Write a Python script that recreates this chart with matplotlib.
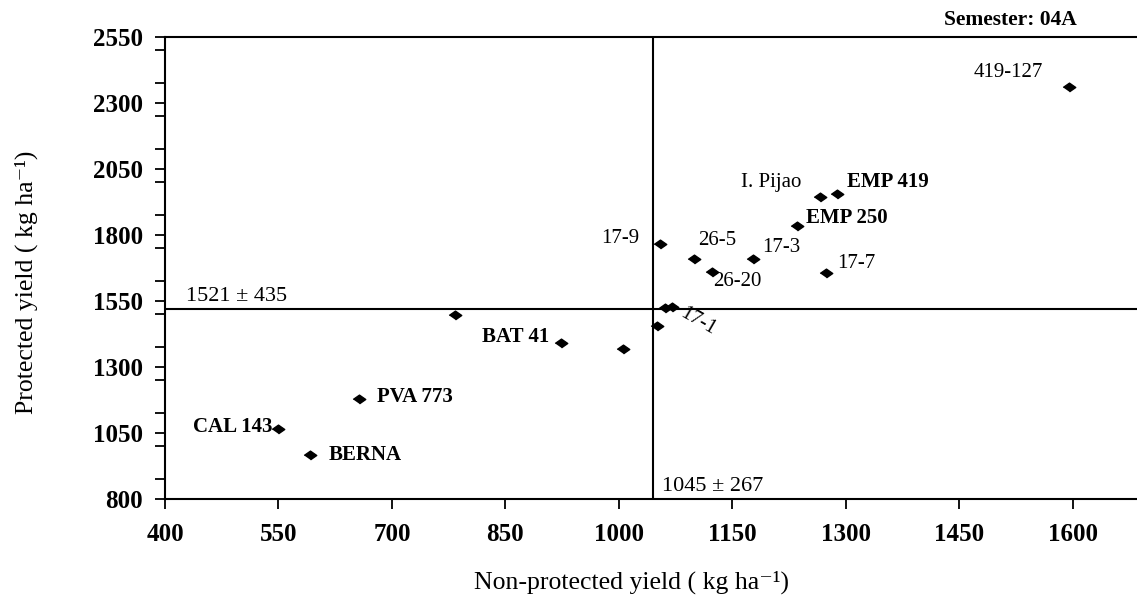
import numpy as np
import matplotlib.pyplot as plt
from matplotlib.ticker import MultipleLocator

plt.rcParams['font.family'] = ['Liberation Serif', 'DejaVu Serif']

# genotype yields, kg/ha (non-protected vs protected)
genotypes = ['CAL 143', 'BERNA', 'PVA 773', '', 'BAT 41', '', '', '', '17-1',
             '17-9', '26-5', '26-20', '17-3', '17-7', 'EMP 250', 'I. Pijao',
             'EMP 419', '419-127']
non_protected = [550, 592, 657, 783, 923, 1005, 1050, 1061, 1070,
                 1055, 1100, 1123, 1178, 1274, 1236, 1266, 1288, 1595]
protected = [1065, 968, 1178, 1498, 1392, 1369, 1457, 1525, 1529,
             1768, 1709, 1662, 1709, 1657, 1835, 1946, 1957, 2363]

mean_np, sd_np = 1045, 267
mean_p, sd_p = 1521, 435

x_ticks = [400, 550, 700, 850, 1000, 1150, 1300, 1450, 1600]
y_ticks = [800, 1050, 1300, 1550, 1800, 2050, 2300, 2550]

bold_names = {'CAL 143', 'BERNA', 'PVA 773', 'BAT 41', 'EMP 250', 'EMP 419'}
# label placement: (dx px, dy px, ha, rotation)
label_pos = {
    'CAL 143': (-6, 2, 'right', 0),
    'BERNA': (18, 0, 'left', 0),
    'PVA 773': (18, 2, 'left', 0),
    'BAT 41': (-11, 6, 'right', 0),
    '17-1': (26, -15, 'center', -30),
    '17-9': (-21, 5, 'right', 0),
    '26-5': (4, 19, 'left', 0),
    '26-20': (1, -10, 'left', 0),
    '17-3': (9, 12, 'left', 0),
    '17-7': (11, 9, 'left', 0),
    'EMP 250': (9, 8, 'left', 0),
    'I. Pijao': (-19, 14, 'right', 0),
    'EMP 419': (10, 12, 'left', 0),
    '419-127': (-26, 14, 'right', 0),
}

fig = plt.figure(figsize=(11.37, 5.98), dpi=100)
ax = fig.add_axes([165 / 1137, 99 / 598, 1 - 165 / 1137, (499 - 37.3) / 598])

diamond = [(-1, 0), (0, 0.7), (1, 0), (0, -0.7)]
ax.plot(non_protected, protected, ls='none', marker=diamond, ms=9,
        color='black', zorder=3)

ax.axvline(mean_np, color='black', lw=1.5)
ax.axhline(mean_p, color='black', lw=1.5)

for name, xv, yv in zip(genotypes, non_protected, protected):
    if not name:
        continue
    dx, dy, ha, rot = label_pos[name]
    ax.annotate(name, (xv, yv), xytext=(dx, dy), textcoords='offset pixels',
                ha=ha, va='center', fontsize=15, rotation=rot,
                rotation_mode='anchor',
                fontweight='bold' if name in bold_names else 'normal')

ax.annotate(f'{mean_p} ± {sd_p}', (428, mean_p), xytext=(0, 3),
            textcoords='offset pixels', ha='left', va='bottom', fontsize=16)
ax.annotate(f'{mean_np} ± {sd_np}', (mean_np, 800), xytext=(9, 3),
            textcoords='offset pixels', ha='left', va='bottom', fontsize=16)

ax.set_xlim(400, 1685)
ax.set_ylim(800, 2550)
ax.set_xticks(x_ticks)
ax.set_yticks(y_ticks)
ax.yaxis.set_minor_locator(MultipleLocator(125))
ax.tick_params(which='both', direction='out', length=7, width=1.3)
ax.tick_params(axis='x', pad=10)
ax.tick_params(axis='y', pad=9)
for lab in ax.get_xticklabels() + ax.get_yticklabels():
    lab.set_fontweight('bold')
    lab.set_fontsize(18)

for side in ['left', 'bottom', 'top']:
    ax.spines[side].set_linewidth(1.5)
ax.spines['right'].set_visible(False)

unit = 'kg ha\u207b\u00b9'
fig.text(632 / 1137, 1 - 582 / 598, f'Non-protected yield ( {unit})',
         ha='center', va='center', fontsize=18.5)
fig.text(26 / 1137, 1 - 282 / 598, f'Protected yield ( {unit})',
         ha='center', va='center', rotation=90, fontsize=18.5)
fig.text(1010 / 1137, 1 - 20 / 598, 'Semester: 04A', ha='center',
         va='center', fontsize=15.5, fontweight='bold')

fig.savefig('out.png', dpi=100)
